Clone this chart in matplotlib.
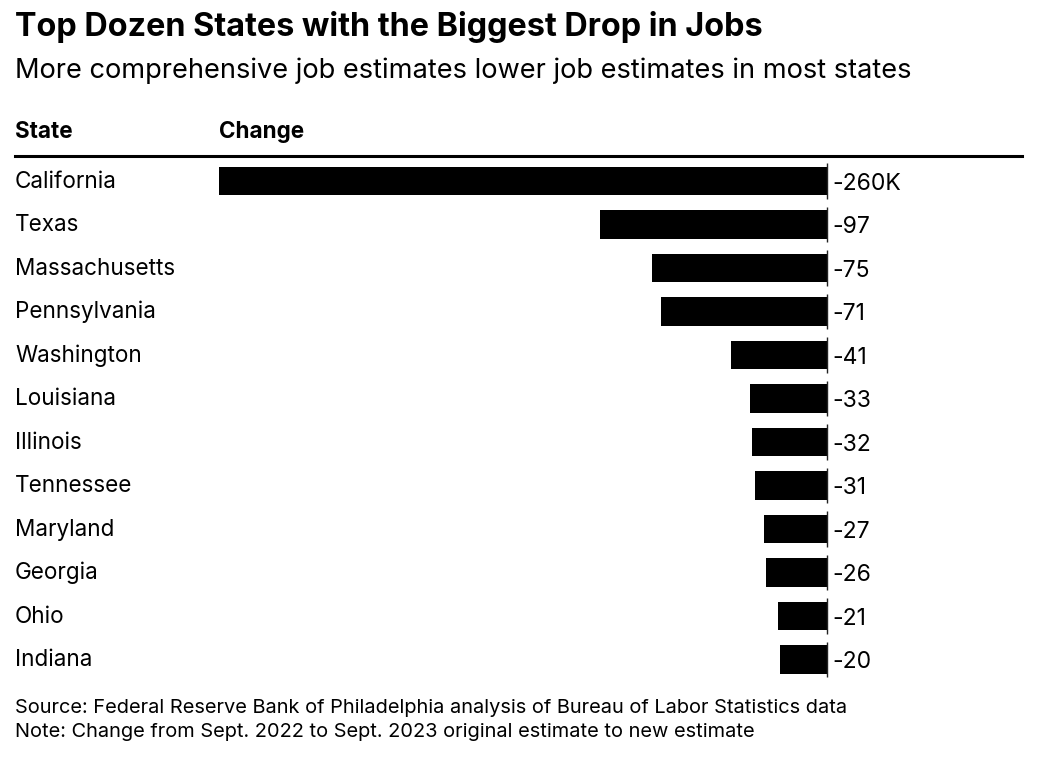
import matplotlib.pyplot as plt
import numpy as np

plt.rcParams['font.family'] = ['Inter', 'DejaVu Sans']

states = ['California', 'Texas', 'Massachusetts', 'Pennsylvania', 'Washington',
          'Louisiana', 'Illinois', 'Tennessee', 'Maryland', 'Georgia', 'Ohio', 'Indiana']
change = [-260, -97, -75, -71, -41, -33, -32, -31, -27, -26, -21, -20]
value_labels = ['-260K', '-97', '-75', '-71', '-41', '-33', '-32', '-31', '-27', '-26', '-21', '-20']

W, H = 1040, 761
fig = plt.figure(figsize=(W / 100, H / 100), dpi=100)

# axes spans the row area; x scale: 2.338 px per unit, zero at x=827px
ax = fig.add_axes([15 / W, 1 - 685 / H, 1007 / W, 525 / H])
ax.set_xlim(-347.3, 83.4)
ax.set_ylim(11.586, -0.483)
ax.axis('off')

rows = np.arange(len(states))
ax.barh(rows, change, height=0.65, color='black')
ax.vlines(np.zeros(len(rows)), rows - 0.41, rows + 0.41, color='#222222', linewidth=1)

for i, (s, v) in enumerate(zip(states, value_labels)):
    ax.text(-347.3, i + 0.16, s, fontsize=16.2, va='baseline', ha='left')
    ax.text(2.3, i + 0.2, v, fontsize=16.5, va='baseline', ha='left')

fig.text(15 / W, 1 - 36 / H, 'Top Dozen States with the Biggest Drop in Jobs',
         fontsize=23.3, fontweight='bold', va='baseline')
fig.text(15 / W, 1 - 78 / H, 'More comprehensive job estimates lower job estimates in most states',
         fontsize=19.6, va='baseline')
fig.text(15 / W, 1 - 138 / H, 'State', fontsize=16.2, fontweight='bold', va='baseline')
fig.text(219 / W, 1 - 138 / H, 'Change', fontsize=16.2, fontweight='bold', va='baseline')
fig.add_artist(plt.Line2D([15 / W, 1022 / W], [1 - 156 / H, 1 - 156 / H],
                          color='black', linewidth=2.2))

fig.text(15 / W, 1 - 713 / H,
         'Source: Federal Reserve Bank of Philadelphia analysis of Bureau of Labor Statistics data',
         fontsize=14.4, va='baseline')
fig.text(15 / W, 1 - 737 / H,
         'Note: Change from Sept. 2022 to Sept. 2023 original estimate to new estimate',
         fontsize=14.4, va='baseline')

fig.savefig('out.png', dpi=100)
